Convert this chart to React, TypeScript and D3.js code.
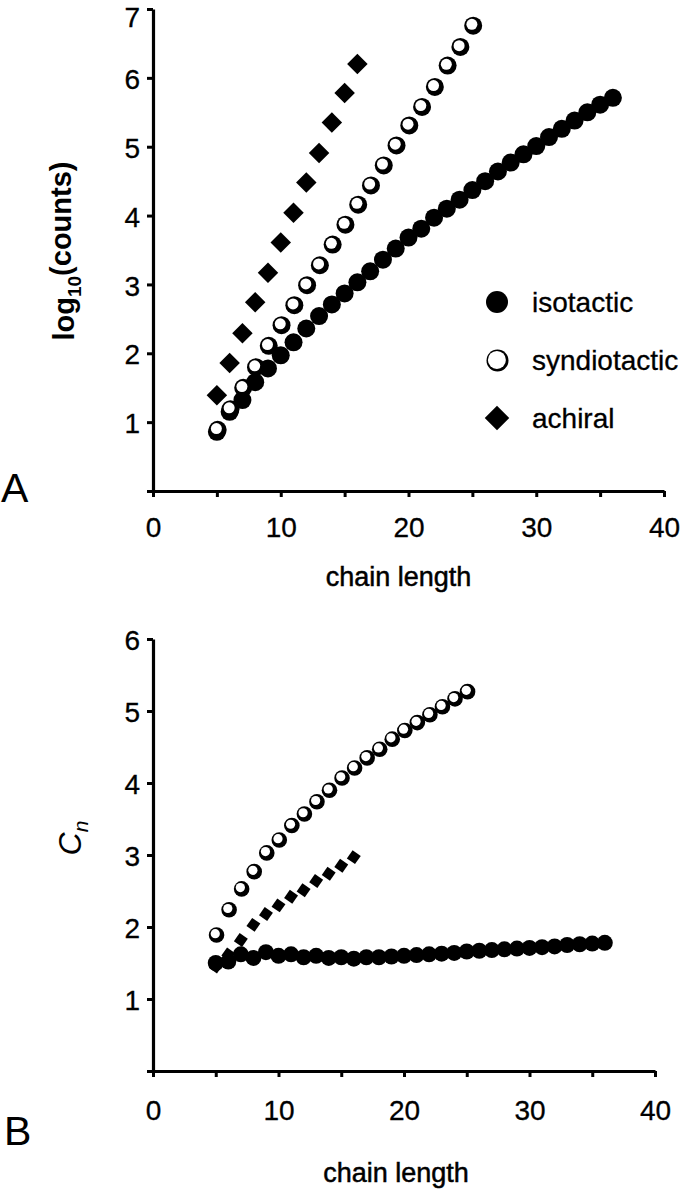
import { useRef, useEffect } from 'react';
import * as d3 from 'd3';

// chain lengths
const isoLen = d3.range(5, 37);
const synLen = d3.range(5, 26);
const achLen = d3.range(5, 17);

// panel A: log10(counts)
const logIso = [0.86, 1.15, 1.32, 1.58, 1.78, 1.97, 2.16, 2.36, 2.54, 2.71, 2.87, 3.03, 3.19, 3.36, 3.52, 3.68,
  3.81, 3.97, 4.1, 4.23, 4.37, 4.5, 4.64, 4.77, 4.89, 5.01, 5.14, 5.26, 5.38, 5.5, 5.61, 5.71];
const logSyn = [0.9, 1.2, 1.51, 1.81, 2.12, 2.42, 2.71, 3.0, 3.29, 3.59, 3.88, 4.17, 4.45, 4.74, 5.03, 5.32,
  5.59, 5.88, 6.19, 6.46, 6.77];
const logAch = [1.39, 1.86, 2.29, 2.74, 3.17, 3.61, 4.04, 4.48, 4.91, 5.35, 5.78, 6.2];

// panel B: Cn
const cnIso = [1.5, 1.52, 1.62, 1.57, 1.65, 1.6, 1.62, 1.58, 1.6, 1.57, 1.58, 1.56, 1.58, 1.58, 1.59, 1.6,
  1.61, 1.62, 1.63, 1.64, 1.66, 1.67, 1.68, 1.69, 1.7, 1.71, 1.72, 1.73, 1.75, 1.76, 1.77, 1.78];
const cnSyn = [1.9, 2.25, 2.54, 2.78, 3.04, 3.22, 3.42, 3.58, 3.75, 3.91, 4.08, 4.22, 4.36, 4.48, 4.62, 4.74,
  4.85, 4.96, 5.07, 5.18, 5.28];
const cnAch = [1.45, 1.62, 1.82, 2.03, 2.18, 2.3, 2.42, 2.51, 2.64, 2.74, 2.85, 2.97];

const legendNames = ['isotactic', 'syndiotactic', 'achiral'];
const xTicks = d3.range(0, 41, 5);

const FONT = '"Liberation Sans", Arial, sans-serif';

function Axes({ x, y, yTicks, pad }) {
  const gx = useRef(null);
  const gy = useRef(null);
  useEffect(() => {
    const ax = d3.select(gx.current);
    ax.call(d3.axisBottom(x).tickValues(xTicks).tickSize(6).tickSizeOuter(0).tickPadding(pad)
      .tickFormat(d => (d % 10 === 0 ? String(d) : '')));
    const ay = d3.select(gy.current);
    ay.call(d3.axisLeft(y).tickValues(yTicks).tickSize(6).tickSizeOuter(0).tickPadding(7)
      .tickFormat(d => (d === 0 ? '' : String(d))));
    [ax, ay].forEach(g => {
      g.select('.domain').attr('stroke-width', 3.2).attr('stroke', '#000');
      g.selectAll('.tick line').attr('stroke-width', 3).attr('stroke', '#000');
      g.selectAll('.tick text').attr('font-size', 28).attr('font-family', FONT).attr('fill', '#000')
        .attr('stroke', '#000').attr('stroke-width', 0.3);
    });
    // top label sits a little low so it stays inside the page
    ay.selectAll('.tick text').attr('dy', d => (y(d) < 20 ? '0.62em' : '0.38em'));
  }, [x, y, yTicks, pad]);
  const [y0] = y.range();
  const [x0] = x.range();
  return (
    <g>
      <g ref={gx} transform={`translate(0,${y0})`} />
      <g ref={gy} transform={`translate(${x0},0)`} />
    </g>
  );
}

function Filled({ xs, ys, x, y, r }) {
  return (
    <g>
      {xs.map((n, i) => (
        <circle key={i} cx={x(n)} cy={y(ys[i])} r={r} fill="#000" />
      ))}
    </g>
  );
}

function Open({ xs, ys, x, y, r, hole }) {
  return (
    <g>
      {xs.map((n, i) => (
        <g key={i}>
          <circle cx={x(n) + 0.8} cy={y(ys[i]) + 0.8} r={r} fill="#000" />
          <circle cx={x(n) - 0.5} cy={y(ys[i]) - 0.5} r={hole} fill="#fff" />
        </g>
      ))}
    </g>
  );
}

function Diamonds({ xs, ys, x, y, size, angle }) {
  const sym = d3.symbol().type(d3.symbolSquare).size(size);
  return (
    <g>
      {xs.map((n, i) => (
        <path key={i} d={sym()} fill="#000" transform={`translate(${x(n)},${y(ys[i])}) rotate(${angle})`} />
      ))}
    </g>
  );
}

export default function App() {
  const xA = d3.scaleLinear([0, 40], [153, 664]);
  const yA = d3.scaleLinear([0, 7], [491, 9]);
  const xB = d3.scaleLinear([0, 40], [153, 655]);
  const yB = d3.scaleLinear([0, 6], [1071, 639]);
  const legendY = d3.scalePoint(legendNames, [302, 418]);
  const legendSym = d3.symbol().type(d3.symbolSquare).size(300);
  const labA = 251;
  const labB = 838;

  return (
    <svg width={680} height={1200} style={{ position: 'absolute', left: 0, top: 0, background: '#fff' }}
      fontFamily={FONT}>
      {/* panel A */}
      <Axes x={xA} y={yA} yTicks={d3.range(0, 8)} pad={20} />
      <Diamonds xs={achLen} ys={logAch} x={xA} y={yA} size={210} angle={45} />
      <Filled xs={isoLen} ys={logIso} x={xA} y={yA} r={9} />
      <Open xs={synLen} ys={logSyn} x={xA} y={yA} r={9} hole={5.5} />
      <text x={64} y={labA} transform={`rotate(-90, 64, ${labA})`}
        textAnchor="middle" fontSize={29} fontWeight="bold" dy="0.35em">
        log<tspan fontSize={19} dy="0.35em">10</tspan><tspan dy="-0.35em">(counts)</tspan>
      </text>
      <text x={xA(20) - 10} y={586} textAnchor="middle" fontSize={27} stroke="#000" strokeWidth={0.5}>
        chain length
      </text>
      <text x={1} y={502} fontSize={41}>A</text>
      {/* legend */}
      <g>
        <circle cx={497} cy={legendY('isotactic')} r={11} fill="#000" />
        <circle cx={497.5} cy={legendY('syndiotactic') + 0.5} r={11} fill="#000" />
        <circle cx={496.9} cy={legendY('syndiotactic') - 0.1} r={9} fill="#fff" />
        <path d={legendSym()} fill="#000" transform={`translate(497,${legendY('achiral')}) rotate(45)`} />
        {legendNames.map(name => (
          <text key={name} x={532} y={legendY(name)} dy="0.35em" fontSize={28} stroke="#000" strokeWidth={0.3}>
            {name}
          </text>
        ))}
      </g>

      {/* panel B */}
      <Axes x={xB} y={yB} yTicks={d3.range(0, 7)} pad={23} />
      <Diamonds xs={achLen} ys={cnAch} x={xB} y={yB} size={100} angle={35} />
      <Filled xs={isoLen} ys={cnIso} x={xB} y={yB} r={8} />
      <Open xs={synLen} ys={cnSyn} x={xB} y={yB} r={7.8} hole={4.6} />
      <text x={70} y={labB} transform={`rotate(-90, 70, ${labB})`} textAnchor="middle" fontSize={32}
        fontStyle="italic" dy="0.35em">
        C<tspan fontSize={21} dy="0.3em">n</tspan>
      </text>
      <text x={xB(20) - 8} y={1182} textAnchor="middle" fontSize={27} stroke="#000" strokeWidth={0.5}>
        chain length
      </text>
      <text x={4} y={1145} fontSize={41}>B</text>
    </svg>
  );
}
